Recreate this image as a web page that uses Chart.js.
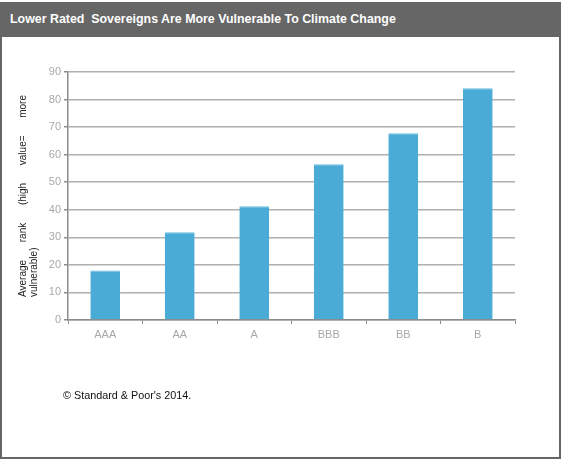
<!DOCTYPE html>
<html>
<head>
<meta charset="utf-8">
<script src="https://cdn.jsdelivr.net/npm/chart.js@4.4.0/dist/chart.umd.min.js"></script>
<style>
  html, body { margin: 0; padding: 0; background: #fff; }
  body { width: 562px; height: 463px; position: relative; overflow: hidden; font-family: Arial, "Liberation Sans", sans-serif; }
  #frame {
    position: absolute; left: 0; top: 2px;
    width: 557px; height: 455px;
    border: 2px solid #666; border-top: 0;
  }
  #header {
    position: absolute; left: 0; top: 2px; width: 561px; height: 35px;
    background: #666; color: #fff;
    font-weight: bold; font-size: 12.4px; line-height: 35px;
    box-sizing: border-box; padding-left: 10px;
  }
  #note {
    position: absolute; left: 63px; top: 389px;
    font-size: 10.8px; color: #111;
  }
  #wrap { position: absolute; left: 0; top: 0; width: 562px; height: 463px; }
</style>
</head>
<body>
<div id="frame"></div>
<div id="header">Lower Rated&nbsp; Sovereigns Are More Vulnerable To Climate Change</div>
<div id="wrap"><canvas id="chart"></canvas></div>
<div id="note">© Standard &amp; Poor's 2014.</div>
<script>
const categories = ['AAA', 'AA', 'A', 'BBB', 'BB', 'B'];
const values = [18, 31.8, 41.3, 56.5, 67.8, 84.1];
const yTicks = [0, 10, 20, 30, 40, 50, 60, 70, 80, 90];
const yTitleLine1 = ['Average', 'rank', '(high', 'value=', 'more'];
const yTitleLine2 = 'vulnerable)';

const AXIS = '#8c8c8c';
const GRID = '#b0b0b0';
const TICK_TEXT = '#a8a8a8';

// y title is justified across the axis height, so it is drawn by hand
const yTitlePlugin = {
  id: 'yTitle',
  afterDraw(chart) {
    const { ctx, chartArea } = chart;
    const start = chartArea.bottom - 23;
    const end = chartArea.top + 23;
    ctx.save();
    ctx.font = '10px Arial, "Liberation Sans", sans-serif';
    ctx.fillStyle = '#222';
    ctx.textBaseline = 'middle';
    ctx.textAlign = 'left';
    const widths = yTitleLine1.map((w) => ctx.measureText(w).width);
    const total = widths.reduce((a, b) => a + b, 0);
    const gap = (start - end - total) / (yTitleLine1.length - 1);
    let pos = 0;
    yTitleLine1.forEach((w, i) => {
      ctx.save();
      ctx.translate(23, start - pos);
      ctx.rotate(-Math.PI / 2);
      ctx.fillText(w, 0, 0);
      ctx.restore();
      pos += widths[i] + gap;
    });
    ctx.translate(34, start);
    ctx.rotate(-Math.PI / 2);
    ctx.fillText(yTitleLine2, 0, 0);
    ctx.restore();
  },
};

new Chart(document.getElementById('chart'), {
  type: 'bar',
  data: {
    labels: categories,
    datasets: [{
      data: values,
      backgroundColor: '#4aacd6',
      borderColor: '#6cbde0',
      borderWidth: { top: 1, left: 0, right: 0, bottom: 0 },
      borderSkipped: false,
      categoryPercentage: 1,
      barPercentage: 0.4,
    }],
  },
  options: {
    responsive: true,
    maintainAspectRatio: false,
    animation: false,
    layout: { padding: { top: 72, right: 47, bottom: 100, left: 0 } },
    plugins: {
      legend: { display: false },
      title: { display: false },
      tooltip: { enabled: false },
    },
    scales: {
      x: {
        afterFit: (s) => { s.height = 43; },
        border: { color: AXIS, width: 1.5 },
        grid: { drawOnChartArea: false, drawTicks: true, tickLength: 4, tickColor: AXIS, offset: true },
        ticks: { color: TICK_TEXT, padding: 4, font: { family: 'Arial, "Liberation Sans", sans-serif', size: 11 } },
      },
      y: {
        min: 0,
        max: 90,
        afterFit: (s) => { s.width = 68; },
        afterBuildTicks: (s) => { s.ticks = yTicks.map((v) => ({ value: v })); },
        border: { color: AXIS, width: 1.5 },
        grid: { color: GRID, lineWidth: 1.5, tickLength: 4, tickColor: AXIS },
        ticks: { color: TICK_TEXT, padding: 3, font: { family: 'Arial, "Liberation Sans", sans-serif', size: 11 } },
      },
    },
  },
  plugins: [yTitlePlugin],
});
</script>
</body>
</html>
